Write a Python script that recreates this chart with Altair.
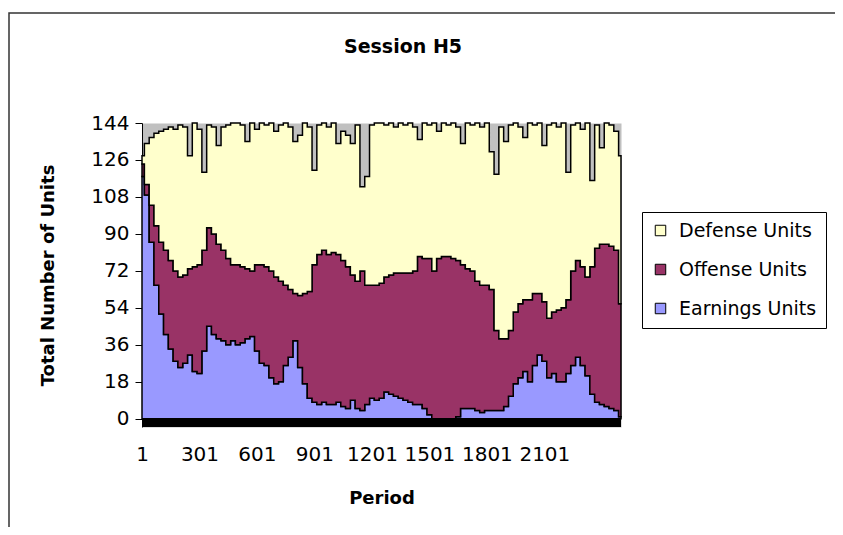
import altair as alt
import pandas as pd

# Sample periods (every 25 periods across the session)
periods = list(range(1, 2502, 25))

earnings = [118, 109, 86, 65, 51, 41, 34, 28, 25, 27,
            31, 23, 22, 33, 45, 41, 39, 38, 36, 38,
            36, 37, 39, 40, 33, 27, 26, 20, 17, 18,
            26, 30, 38, 25, 17, 10, 8, 7, 8, 7,
            7, 8, 6, 5, 9, 5, 4, 7, 10, 9,
            10, 13, 12, 11, 10, 9, 8, 7, 7, 5,
            2, 0, 0, 0, 0, 0, 1, 5, 5, 5,
            4, 3, 4, 4, 4, 4, 6, 11, 17, 20,
            23, 18, 26, 31, 28, 20, 22, 18, 18, 22,
            26, 30, 26, 21, 12, 8, 7, 6, 5, 4,
            1]

offense = [6, 5, 18, 29, 35, 41, 43, 44, 44, 43,
           42, 51, 53, 49, 48, 49, 46, 44, 42, 37,
           39, 37, 34, 32, 42, 48, 48, 52, 52, 49,
           39, 33, 23, 35, 44, 52, 67, 73, 74, 73,
           74, 72, 71, 69, 61, 62, 68, 58, 55, 56,
           56, 56, 58, 60, 61, 62, 63, 65, 72, 73,
           76, 72, 78, 79, 79, 78, 76, 70, 68, 67,
           63, 62, 61, 59, 39, 35, 33, 32, 35, 36,
           35, 40, 35, 30, 29, 29, 30, 35, 36, 36,
           46, 47, 48, 48, 62, 75, 78, 79, 79, 78,
           55]

defense = [4, 20, 33, 45, 54, 59, 65, 69, 74, 72,
           55, 70, 66, 38, 50, 52, 48, 60, 65, 69,
           69, 69, 62, 72, 66, 69, 69, 72, 71, 76,
           79, 79, 74, 78, 83, 80, 46, 63, 62, 62,
           63, 54, 63, 64, 64, 76, 41, 53, 78, 79,
           78, 74, 74, 71, 73, 72, 73, 70, 57, 66,
           65, 72, 62, 65, 64, 66, 65, 59, 71, 71,
           77, 77, 79, 67, 76, 103, 96, 100, 92, 86,
           79, 86, 82, 83, 76, 94, 92, 89, 90, 62,
           71, 67, 67, 75, 42, 60, 47, 59, 59, 58,
           72]

series_names = ["Earnings Units", "Offense Units", "Defense Units"]
legend_order = ["Defense Units", "Offense Units", "Earnings Units"]
legend_colors = ["#FFFFCC", "#993366", "#9999FF"]
x_ticks = [1, 301, 601, 901, 1201, 1501, 1801, 2101]
y_ticks = [0, 18, 36, 54, 72, 90, 108, 126, 144]

rows = []
for i, p in enumerate(periods):
    for j, (name, vals) in enumerate(zip(series_names, [earnings, offense, defense])):
        rows.append({"Period": p, "Series": name, "Units": vals[i], "ord": j})
df = pd.DataFrame(rows)

W, H = 479, 304
FONT = "DejaVu Sans"
Y_MIN, Y_MAX = -4, 144
zero_px = H * (Y_MAX - 0) / (Y_MAX - Y_MIN)  # pixel row of the zero line

xscale = alt.Scale(domain=[1, 2501], nice=False, zero=False)
yscale = alt.Scale(domain=[Y_MIN, Y_MAX], nice=False, zero=False)

area = alt.Chart(df).mark_area(
    interpolate="step", stroke="black", strokeWidth=1.5
).encode(
    x=alt.X("Period:Q", scale=xscale,
            axis=alt.Axis(values=x_ticks, title="Period", domain=False, ticks=False,
                          labelPadding=17, titlePadding=25, labelFlush=False,
                          labelOverlap=False, grid=False, format="d")),
    y=alt.Y("Units:Q", stack="zero", scale=yscale,
            axis=alt.Axis(values=y_ticks, title="Total Number of Units", grid=False,
                          tickSize=7, labelPadding=6, titlePadding=33,
                          labelOverlap=False, labelFlush=False,
                          domainColor="black", tickColor="black")),
    color=alt.Color("Series:N",
                    scale=alt.Scale(domain=legend_order, range=legend_colors),
                    legend=alt.Legend(title=None, orient="none", legendX=500, legendY=89,
                                      direction="vertical", symbolType="square",
                                      symbolSize=110, symbolStrokeColor="black",
                                      symbolStrokeWidth=1, labelFont=FONT,
                                      labelFontSize=19, labelColor="black",
                                      rowPadding=19, padding=9, labelOffset=9,
                                      strokeColor="black", fillColor="white",
                                      cornerRadius=0)),
    order=alt.Order("ord:Q"),
)

band = alt.Chart(pd.DataFrame({"a": [0]})).mark_rect(color="black").encode(
    x=alt.value(0), x2=alt.value(W), y=alt.value(zero_px), y2=alt.value(H)
)

title = alt.Chart(pd.DataFrame({"t": ["Session H5"]})).mark_text(
    font=FONT, fontSize=19, fontWeight="bold", color="black", baseline="middle", align="center"
).encode(x=alt.value(261), y=alt.value(-76), text="t:N")

border = alt.Chart(pd.DataFrame({"a": [0]})).mark_rect(
    filled=False, stroke="#333333", strokeWidth=1.5
).encode(x=alt.value(-133), x2=alt.value(800), y=alt.value(-110), y2=alt.value(600))

chart = alt.layer(border, area, band, title).properties(
    width=W, height=H,
    autosize=alt.AutoSizeParams(type="none"),
    padding={"left": 134, "top": 115, "right": 214, "bottom": 100},
    background="white",
).configure_view(
    fill="#C0C0C0", stroke="transparent"
).configure_axis(
    labelFont=FONT, labelFontSize=20, labelColor="black",
    titleFont=FONT, titleFontSize=18, titleFontWeight="bold", titleColor="black",
    labelOverlap=False
)

chart.save("out.html", embed_options={"renderer": "svg", "actions": False})
